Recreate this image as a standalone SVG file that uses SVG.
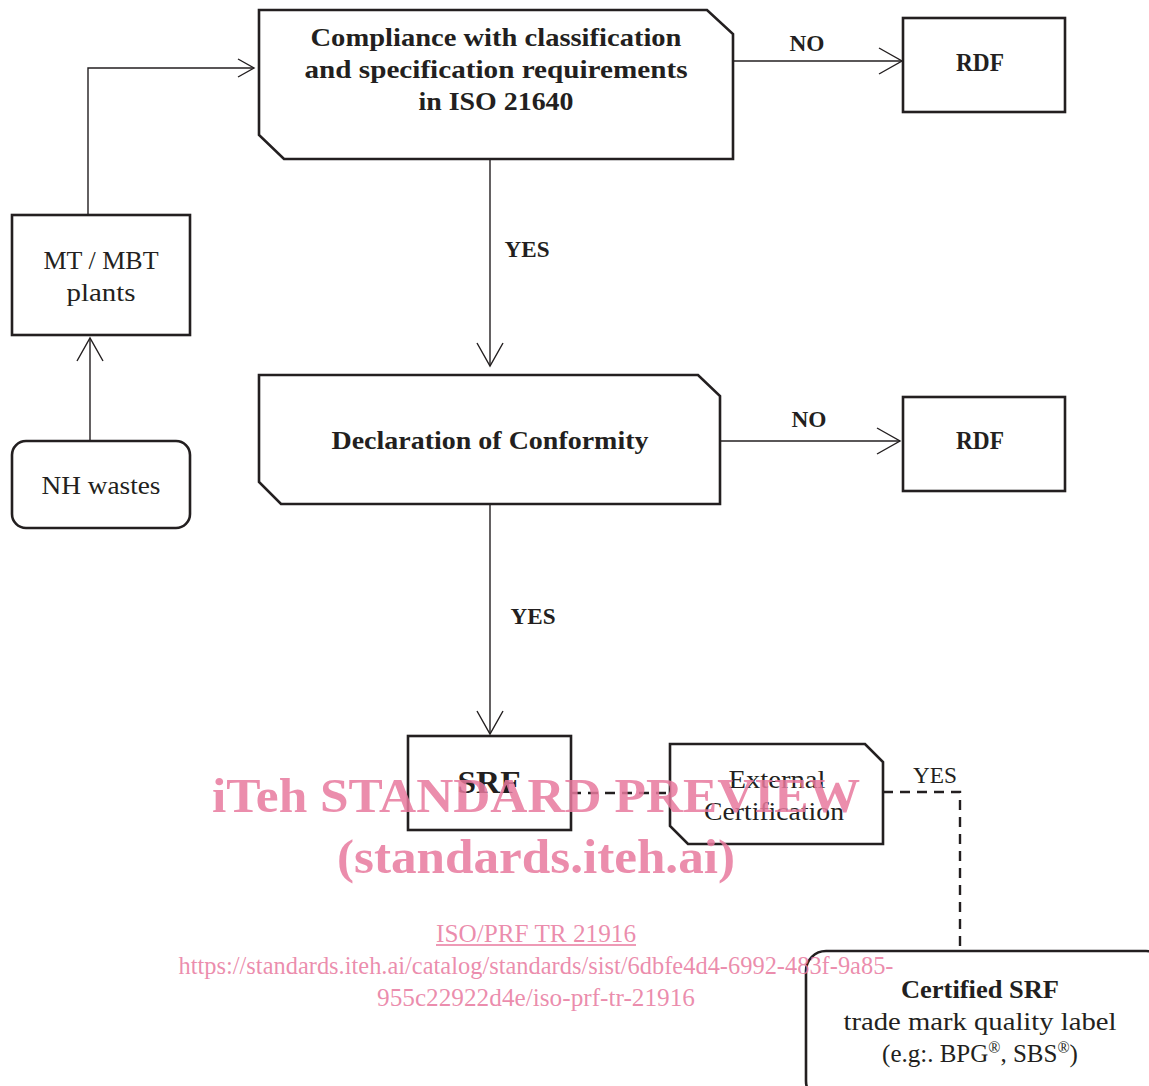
<svg xmlns="http://www.w3.org/2000/svg" width="1149" height="1086" viewBox="0 0 1149 1086">
<style>
.box{fill:#fff;stroke:#231f20;stroke-width:2.6}
.ln{fill:none;stroke:#231f20;stroke-width:1.4}
.dash{fill:none;stroke:#231f20;stroke-width:2.4;stroke-dasharray:10,7}
.b{font-family:"Liberation Serif","DejaVu Serif",serif;font-weight:bold;fill:#231f20;text-anchor:middle}
.r{font-family:"Liberation Serif","DejaVu Serif",serif;fill:#231f20;text-anchor:middle}
.wm{font-family:"Liberation Serif",serif;fill:#e8799e;fill-opacity:0.85;text-anchor:middle}
</style>
<defs>
<marker id="ah" markerUnits="userSpaceOnUse" markerWidth="30" markerHeight="30" viewBox="-26 -15 30 30" refX="0" refY="0" orient="auto" overflow="visible">
<path d="M-23,-13 L0,0 L-23,13" fill="none" stroke="#231f20" stroke-width="1.4"/>
</marker>
<marker id="ahs" markerUnits="userSpaceOnUse" markerWidth="20" markerHeight="20" viewBox="-18 -10 20 20" refX="0" refY="0" orient="auto" overflow="visible">
<path d="M-16,-9 L0,0 L-16,9" fill="none" stroke="#231f20" stroke-width="1.4"/>
</marker>
</defs>
<g id="connectors">
<path class="ln" d="M90,441 V338" marker-end="url(#ah)"/>
<path class="ln" d="M88,215 V68 H254" marker-end="url(#ahs)"/>
<path class="ln" d="M490,160 V366" marker-end="url(#ah)"/>
<path class="ln" d="M733,61 H902" marker-end="url(#ah)"/>
<path class="ln" d="M720,441 H900" marker-end="url(#ah)"/>
<path class="ln" d="M490,504 V734" marker-end="url(#ah)"/>
<path class="dash" d="M571,793 H670"/>
<path class="dash" d="M883,792 H960 V950"/>
<text class="b" x="527" y="257" font-size="24" textLength="45" lengthAdjust="spacingAndGlyphs">YES</text>
<text class="b" x="807" y="51" font-size="24" textLength="35" lengthAdjust="spacingAndGlyphs">NO</text>
<text class="b" x="809" y="427" font-size="24" textLength="35" lengthAdjust="spacingAndGlyphs">NO</text>
<text class="b" x="533" y="624" font-size="24" textLength="45" lengthAdjust="spacingAndGlyphs">YES</text>
<text class="r" x="935" y="783" font-size="24" textLength="44" lengthAdjust="spacingAndGlyphs">YES</text>
</g>
<g id="nh-wastes">
<rect class="box" x="12" y="441" width="178" height="87" rx="14"/>
<text class="r" x="101" y="494" font-size="25" textLength="119" lengthAdjust="spacingAndGlyphs">NH wastes</text>
</g>
<g id="mt-mbt">
<rect class="box" x="12" y="215" width="178" height="120"/>
<text class="r" x="101" y="269" font-size="25" textLength="115" lengthAdjust="spacingAndGlyphs">MT / MBT</text>
<text class="r" x="101" y="301" font-size="25" textLength="69" lengthAdjust="spacingAndGlyphs">plants</text>
</g>
<g id="compliance">
<path class="box" d="M259,10 H707 L733,34 V159 H284 L259,135 Z"/>
<text class="b" x="496" y="46" font-size="25" textLength="371" lengthAdjust="spacingAndGlyphs">Compliance with classification</text>
<text class="b" x="496" y="78" font-size="25" textLength="383" lengthAdjust="spacingAndGlyphs">and specification requirements</text>
<text class="b" x="496" y="110" font-size="25" textLength="155" lengthAdjust="spacingAndGlyphs">in ISO 21640</text>
</g>
<g id="rdf1">
<rect class="box" x="903" y="18" width="162" height="94"/>
<text class="b" x="980" y="71" font-size="25" textLength="48" lengthAdjust="spacingAndGlyphs">RDF</text>
</g>
<g id="declaration">
<path class="box" d="M259,375 H698 L720,396 V504 H281 L259,482 Z"/>
<text class="b" x="490" y="449" font-size="25" textLength="317" lengthAdjust="spacingAndGlyphs">Declaration of Conformity</text>
</g>
<g id="rdf2">
<rect class="box" x="903" y="397" width="162" height="94"/>
<text class="b" x="980" y="449" font-size="25" textLength="48" lengthAdjust="spacingAndGlyphs">RDF</text>
</g>
<g id="srf">
<rect class="box" x="408" y="736" width="163" height="94"/>
<text class="b" x="489" y="793" font-size="32" textLength="63" lengthAdjust="spacingAndGlyphs">SRF</text>
</g>
<g id="external-cert">
<path class="box" d="M670,744 H865 L883,762 V844 H688 L670,826 Z"/>
<text class="r" x="777" y="788" font-size="25" textLength="97" lengthAdjust="spacingAndGlyphs">External</text>
<text class="r" x="774" y="820" font-size="25" textLength="140" lengthAdjust="spacingAndGlyphs">Certification</text>
</g>
<g id="certified-srf">
<rect class="box" x="806" y="951" width="360" height="150" rx="20"/>
<text class="b" x="980" y="998" font-size="25" textLength="158" lengthAdjust="spacingAndGlyphs">Certified SRF</text>
<text class="r" x="980" y="1030" font-size="25" textLength="273" lengthAdjust="spacingAndGlyphs">trade mark quality label</text>
<text class="r" x="980" y="1062" font-size="25">(e.g:. BPG<tspan font-size="16" dy="-9">®</tspan><tspan dy="9">, SBS</tspan><tspan font-size="16" dy="-9">®</tspan><tspan dy="9">)</tspan></text>
</g>
<g id="watermark">
<text class="wm" x="536" y="812" font-size="48" font-weight="bold" textLength="648" lengthAdjust="spacingAndGlyphs">iTeh STANDARD PREVIEW</text>
<text class="wm" x="536" y="873" font-size="48" font-weight="bold" textLength="398" lengthAdjust="spacingAndGlyphs">(standards.iteh.ai)</text>
<text class="wm" x="536" y="942" font-size="26" textLength="200" lengthAdjust="spacingAndGlyphs">ISO/PRF TR 21916</text>
<line x1="436" y1="945" x2="636" y2="945" stroke="#e8799e" stroke-width="1.3"/>
<text class="wm" x="536" y="974" font-size="26" textLength="715" lengthAdjust="spacingAndGlyphs">https://standards.iteh.ai/catalog/standards/sist/6dbfe4d4-6992-483f-9a85-</text>
<text class="wm" x="536" y="1006" font-size="26" textLength="318" lengthAdjust="spacingAndGlyphs">955c22922d4e/iso-prf-tr-21916</text>
</g>
</svg>
